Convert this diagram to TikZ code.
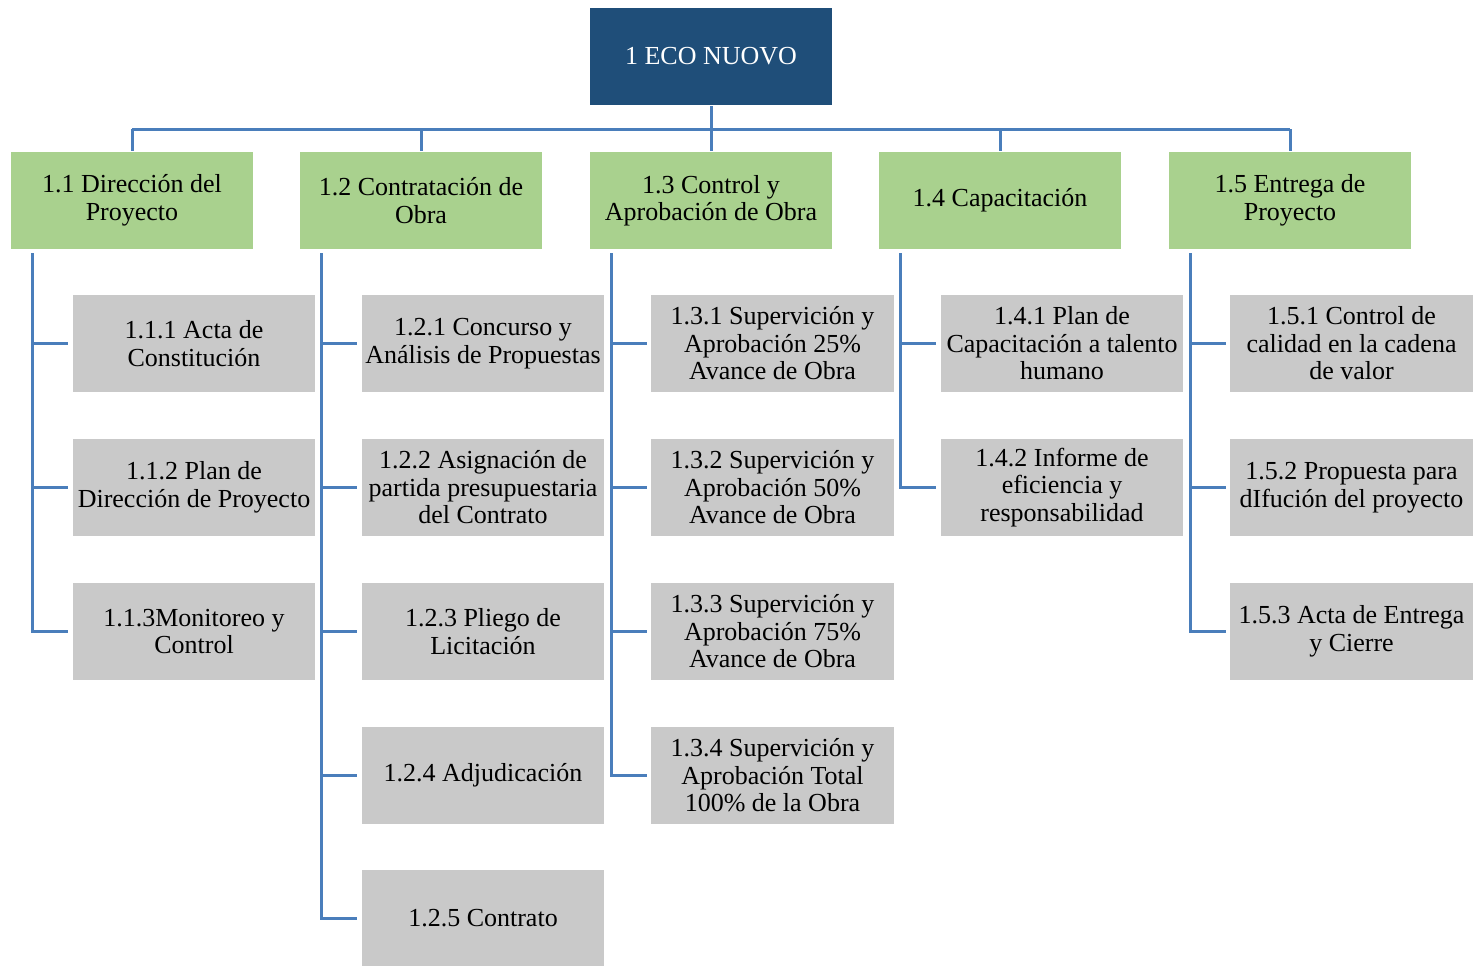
\documentclass[tikz,border=0pt]{standalone}
\usepackage{fontspec}
\setmainfont{Liberation Serif}
\usetikzlibrary{calc}
\definecolor{ecoblue}{HTML}{1F4E79}
\definecolor{ecogreen}{HTML}{A9D18E}
\definecolor{ecogray}{HTML}{C9C9C9}
\definecolor{ecoline}{HTML}{4A7EBB}
\tikzset{
  box/.style={draw=white, line width=0.8pt, minimum width=122pt, minimum height=49pt,
    inner sep=0pt, align=center, font=\fontsize{13}{13.75}\selectfont},
  topbox/.style={box, fill=ecoblue, text=white},
  phasebox/.style={box, fill=ecogreen},
  taskbox/.style={box, fill=ecogray},
  link/.style={draw=ecoline, line width=1.5pt},
}

\begin{document}
\begin{tikzpicture}[x=0.5pt,y=-0.5pt]
\useasboundingbox (0,0) rectangle (1476,965);

% top
\node[topbox] (top) at (711,56.5) {1 ECO NUOVO};

% phases
\node[phasebox] (g1) at (132,200.5) {1.1 Dirección del\\Proyecto};
\node[phasebox] (g2) at (421,200.5) {1.2 Contratación de\\Obra};
\node[phasebox] (g3) at (711,200.5) {1.3 Control y\\Aprobación de Obra};
\node[phasebox] (g4) at (1000,200.5) {1.4 Capacitación};
\node[phasebox] (g5) at (1290,200.5) {1.5 Entrega de\\Proyecto};

% tasks 1.1
\node[taskbox] (c11) at (194,343.5) {1.1.1 Acta de\\Constitución};
\node[taskbox] (c12) at (194,487.5) {1.1.2 Plan de\\Dirección de Proyecto};
\node[taskbox] (c13) at (194,631.5) {1.1.3Monitoreo y\\Control};

% tasks 1.2
\node[taskbox] (c21) at (483,343.5) {1.2.1 Concurso y\\Análisis de Propuestas};
\node[taskbox] (c22) at (483,487.5) {1.2.2 Asignación de\\partida presupuestaria\\del Contrato};
\node[taskbox] (c23) at (483,631.5) {1.2.3 Pliego de\\Licitación};
\node[taskbox] (c24) at (483,775.5) {1.2.4 Adjudicación};
\node[taskbox] (c25) at (483,918.5) {1.2.5 Contrato};

% tasks 1.3
\node[taskbox] (c31) at (772.5,343.5) {1.3.1 Supervición y\\Aprobación 25\%\\Avance de Obra};
\node[taskbox] (c32) at (772.5,487.5) {1.3.2 Supervición y\\Aprobación 50\%\\Avance de Obra};
\node[taskbox] (c33) at (772.5,631.5) {1.3.3 Supervición y\\Aprobación 75\%\\Avance de Obra};
\node[taskbox] (c34) at (772.5,775.5) {1.3.4 Supervición y\\Aprobación Total\\100\% de la Obra};

% tasks 1.4
\node[taskbox] (c41) at (1062,343.5) {1.4.1 Plan de\\Capacitación a talento\\humano};
\node[taskbox] (c42) at (1062,487.5) {1.4.2 Informe de\\eficiencia y\\responsabilidad};

% tasks 1.5
\node[taskbox] (c51) at (1351.5,343.5) {1.5.1 Control de\\calidad en la cadena\\de valor};
\node[taskbox] (c52) at (1351.5,487.5) {1.5.2 Propuesta para\\dIfución del proyecto};
\node[taskbox] (c53) at (1351.5,631.5) {1.5.3 Acta de Entrega\\y Cierre};

% bus
\coordinate (bus) at (711,129);
\draw[link] (top.south) -- (g3.north);
\draw[link] (g1.north |- bus) -- (g5.north |- bus);
\foreach \i in {1,...,5}
  \draw[link] (g\i.north |- bus) -- (g\i.north);

% children
\foreach \i/\n in {1/3,2/5,3/4,4/2,5/3}
  \foreach \j in {1,...,\n}
    \draw[link,shorten >=1.5pt] ($(g\i.south west)+(23,3)$) |- (c\i\j.west);

\end{tikzpicture}
\end{document}
